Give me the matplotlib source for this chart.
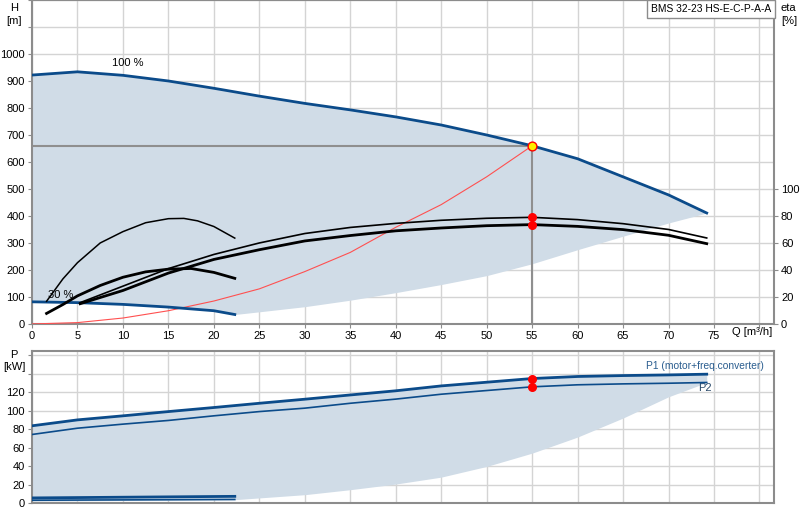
import numpy as np
import matplotlib.pyplot as plt

plt.rcParams['font.family'] = ['Liberation Sans', 'DejaVu Sans']
plt.rcParams['font.size'] = 8

# pump curve data
q_full = [0, 5, 10, 15, 20, 25, 30, 35, 40, 45, 50, 55, 60, 65, 70, 74.2]
h_full = [922, 934, 921, 900, 873, 844, 817, 793, 767, 737, 700, 660, 612, 545, 478, 411]

q_30 = [0, 5, 10, 15, 20, 22.3]
h_30 = [82, 79, 72.5, 62.5, 49, 35]

q_min = [22.3, 25, 30, 35, 40, 45, 50, 55, 60, 65, 70, 74.2]
h_min = [35, 45, 64, 88, 116, 146, 179, 223, 275, 325, 374, 411]

q_sys = [0, 5, 10, 15, 20, 25, 30, 35, 40, 45, 50, 55]
h_sys = [0, 5, 22, 49, 85, 130, 194, 265, 358, 442, 545, 660]

q_eta = [5.3, 10, 15, 20, 25, 30, 35, 40, 45, 50, 55, 60, 65, 70, 74.2]
eta_pump = [15.8, 28, 41, 51.5, 60, 67, 71.5, 74.5, 76.8, 78.3, 79, 77.3, 74.3, 70, 63.7]
eta_tot = [15.0, 24.8, 37.7, 47.8, 55, 61.5, 65.5, 69, 71.1, 72.8, 73.6, 72.3, 69.9, 65.7, 59.5]

q_eta30 = [1.6, 3.4, 5, 7.5, 10, 12.5, 15, 16.7, 18.2, 20, 22.3]
eta_pump30 = [16.8, 33.4, 45.4, 60, 68.4, 75, 78, 78.2, 76.4, 72.2, 63.6]
q_eta30b = [1.6, 3.4, 5, 7.5, 10, 12.5, 15, 17.5, 20, 22.3]
eta_tot30 = [7.8, 14.4, 20.8, 28.5, 34.6, 38.6, 40.6, 41.1, 38.2, 33.8]

p1_full = [83.6, 90, 94.4, 99, 103.4, 108, 112.4, 117, 121.5, 126.8, 130.8, 134.8, 137, 138, 138.7, 139.5]
p2_full = [74.2, 81, 85.4, 89.4, 94.4, 99, 102.7, 108, 112.5, 117.8, 121.8, 125.8, 128, 129, 129.7, 130.5]

q_p30 = [0, 22.3]
p1_30 = [5.5, 7.2]
p2_30 = [3.0, 3.8]

q_pmin = [22.3, 30, 35, 40, 45, 50, 55, 60, 65, 70, 74.2]
p_min = [3.6, 9, 14.4, 20.5, 28, 39.6, 54, 71.4, 92, 115, 130.5]

duty_q, duty_h = 55, 660
duty_eta = [79, 73.6]
duty_p = [134.8, 125.8]

blue = '#0b4b8a'
fill = '#d0dce7'
grid = '#d4d4d4'
frame = '#8c8c8c'

fig = plt.figure(figsize=(8, 5.2), dpi=100)
ax = fig.add_axes([0.04, 0.377, 0.9275, 0.623])
ax2 = ax.twinx()
axp = fig.add_axes([0.04, 0.0327, 0.9275, 0.293])


def style(a):
    for s in a.spines.values():
        s.set_color(frame)
        s.set_linewidth(1.5)
    a.set_xlim(0, 81.6)
    a.set_xticks(np.arange(0, 81, 5))
    a.grid(True, color=grid, lw=1)
    a.set_axisbelow(True)
    a.tick_params(length=3, color=frame, pad=2)


style(ax)
ax.set_ylim(0, 1200)
ax.set_yticks(np.arange(0, 1201, 100))
ax.set_yticklabels([str(v) if v <= 1000 else '' for v in range(0, 1201, 100)])
ax.set_xticklabels([str(v) if v <= 75 else '' for v in range(0, 81, 5)])

# shaded operating range
ql = np.concatenate([q_30, q_min[1:]])
hl = np.concatenate([h_30, h_min[1:]])
qq = np.linspace(0, 74.2, 300)
ax.fill_between(qq, np.interp(qq, q_full, h_full), np.interp(qq, ql, hl), color=fill, lw=0, zorder=1)

ax.plot(q_full, h_full, color=blue, lw=2, zorder=4)
ax.plot(q_30, h_30, color=blue, lw=2, zorder=4)
ax.plot(q_sys, h_sys, color='#ff5050', lw=0.8, zorder=3)
ax.plot([0, duty_q], [duty_h, duty_h], color='#8f8f8f', lw=1.5, zorder=2)
ax.plot([duty_q, duty_q], [0, duty_h], color='#8f8f8f', lw=1.5, zorder=2)
ax.scatter([duty_q], [duty_h], s=40, color='#ffee00', edgecolors='red', linewidths=1, zorder=6)

ax.text(10.5, 967, '100 %', ha='center', va='center', fontsize=8)
ax.text(3.2, 107, '30 %', ha='center', va='center', fontsize=8, zorder=7)
ax.text(79.2, -28, 'Q [m³/h]', ha='center', va='center', fontsize=8, clip_on=False)
ax.text(81.3, 1186, 'BMS 32-23 HS-E-C-P-A-A', ha='right', va='top', fontsize=7.4,
        bbox=dict(facecolor='white', edgecolor=frame, boxstyle='square,pad=0.4'), zorder=8)
fig.text(0.0175, 0.985, 'H', ha='center', va='center', fontsize=8)
fig.text(0.0175, 0.96, '[m]', ha='center', va='center', fontsize=8)
fig.text(0.976, 0.985, 'eta', ha='left', va='center', fontsize=8)
fig.text(0.976, 0.96, '[%]', ha='left', va='center', fontsize=8)

ax2.set_ylim(0, 240)
ax2.set_yticks(np.arange(0, 101, 20))
for s in ax2.spines.values():
    s.set_visible(False)
ax2.tick_params(length=3, color=frame, pad=2)
ax2.plot(q_eta, eta_pump, color='black', lw=1.2, zorder=5)
ax2.plot(q_eta, eta_tot, color='black', lw=2, zorder=5)
ax2.plot(q_eta30, eta_pump30, color='black', lw=1.1, zorder=5)
ax2.plot(q_eta30b, eta_tot30, color='black', lw=2, zorder=5)
ax2.scatter([duty_q, duty_q], duty_eta, s=30, color='red', zorder=6)

# power plot
style(axp)
axp.set_ylim(0, 165)
axp.set_yticks(np.arange(0, 161, 20))
axp.set_yticklabels([str(v) if v <= 120 else '' for v in range(0, 161, 20)])
axp.set_xticklabels([])
axp.tick_params(axis='x', length=0)

qpl = np.concatenate([q_p30, q_pmin[1:]])
ppl = np.concatenate([[2.0, 3.6], p_min[1:]])
axp.fill_between(qq, np.interp(qq, q_full, p1_full), np.interp(qq, qpl, ppl), color=fill, lw=0, zorder=1)
axp.plot(q_full, p1_full, color=blue, lw=2, zorder=4)
axp.plot(q_full, p2_full, color=blue, lw=1.2, zorder=4)
axp.plot(q_p30, p1_30, color=blue, lw=2, zorder=4)
axp.plot(q_p30, p2_30, color=blue, lw=1.2, zorder=4)
axp.scatter([duty_q, duty_q], duty_p, s=30, color='red', zorder=6)
axp.text(80.5, 148.5, 'P1 (motor+freq.converter)', ha='right', va='center', fontsize=7.4, color='#2a5d8f')
axp.text(73.3, 124, 'P2', ha='left', va='center', fontsize=8, color='#2a4a6a')
fig.text(0.0175, 0.318, 'P', ha='center', va='center', fontsize=8)
fig.text(0.0175, 0.295, '[kW]', ha='center', va='center', fontsize=8)

fig.savefig('out.png', dpi=100)
